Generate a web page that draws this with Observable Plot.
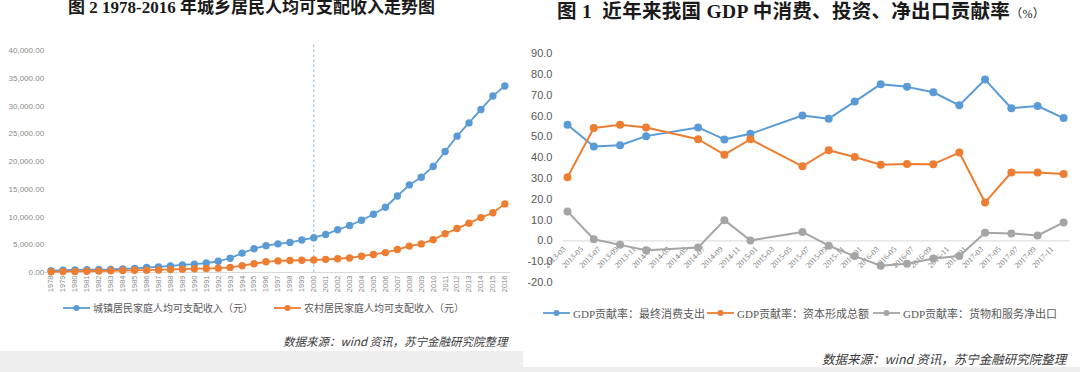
<!DOCTYPE html>
<html><head><meta charset="utf-8">
<script src="https://cdn.jsdelivr.net/npm/d3@7"></script>
<script src="https://cdn.jsdelivr.net/npm/@observablehq/plot@0.6"></script>
<style>
body{margin:0;width:1080px;height:372px;position:relative;overflow:hidden;background:#fff;font-family:"Noto Sans CJK SC",sans-serif}
.abs{position:absolute}
.title{font-family:"Liberation Serif","Noto Sans CJK SC",serif;font-weight:bold;color:#1a1a1a;white-space:nowrap;line-height:1.2}
.item{position:absolute;display:flex;align-items:center;white-space:nowrap;color:#595959}
.src{position:absolute;font-style:italic;color:#3a3a3a;white-space:nowrap;line-height:1.2}
</style></head><body>
<div class="abs" style="left:0;top:351px;width:523px;height:21px;background:#eeeeee"></div>
<div class="abs" style="left:523px;top:367px;width:557px;height:5px;background:#eeeeee"></div>
<div class="abs title" style="left:68px;top:-2px;font-size:17px;">图 2 1978-2016 年城乡居民人均可支配收入走势图</div>
<div class="abs title" style="left:557px;top:0px;font-size:19.5px;letter-spacing:0.3px">图 1&nbsp; 近年来我国 GDP 中消费、投资、净出口贡献率<span style="font-size:12px;font-weight:normal">（%）</span></div>
<div class="abs" id="c1" style="left:0;top:40px"></div>
<div class="abs" id="c2" style="left:520px;top:40px"></div>
<div id="lg"></div>
<div class="src" style="left:283px;top:335px;font-size:11.5px">数据来源：wind 资讯，苏宁金融研究院整理</div>
<div class="src" style="left:822px;top:351px;font-size:12.5px">数据来源：wind 资讯，苏宁金融研究院整理</div>
<script>
// ---- Left chart data: 1978-2016 urban / rural per-capita disposable income (yuan)
const years = [1978,1979,1980,1981,1982,1983,1984,1985,1986,1987,1988,1989,1990,1991,1992,1993,1994,1995,1996,1997,1998,1999,2000,2001,2002,2003,2004,2005,2006,2007,2008,2009,2010,2011,2012,2013,2014,2015,2016];
const urbanIncome = [343,405,478,500,535,565,652,739,901,1002,1180,1374,1510,1701,2027,2577,3496,4283,4839,5160,5425,5854,6280,6860,7703,8472,9422,10493,11760,13786,15781,17175,19109,21810,24565,26955,29381,31790,33616];
const ruralIncome = [134,160,191,223,270,310,355,398,424,463,545,602,686,709,784,922,1221,1578,1926,2090,2162,2210,2253,2366,2476,2622,2936,3255,3587,4140,4761,5153,5919,6977,7917,8896,9892,10772,12363];
const incomeSeries = ["城镇居民家庭人均可支配收入（元）","农村居民家庭人均可支配收入（元）"];
const incomeTicks = [0,5000,10000,15000,20000,25000,30000,35000,40000];
const markerYear = [2000];

// ---- Right chart data: GDP contribution rates (%)
const quarters = ["2013-03","2013-06","2013-09","2013-12","2014-06","2014-09","2014-12","2015-06","2015-09","2015-12","2016-03","2016-06","2016-09","2016-12","2017-03","2017-06","2017-09","2017-12"];
const consumption = [55.9,45.4,46.0,50.4,54.6,48.8,51.5,60.3,58.8,67.0,75.4,74.1,71.5,65.2,77.6,63.8,64.9,59.1];
const investment  = [30.6,54.3,55.9,54.6,48.9,41.5,48.9,35.9,43.6,40.4,36.6,37.0,36.9,42.5,18.5,32.9,32.9,32.2];
const netExports  = [14.2,0.8,-1.9,-4.5,-3.2,10.0,0.2,4.3,-2.3,-7.3,-11.9,-11.0,-8.5,-7.3,3.9,3.6,2.6,8.9];
const gdpSeries = ["GDP贡献率：最终消费支出","GDP贡献率：资本形成总额","GDP贡献率：货物和服务净出口"];
const gdpTicks = [-20,-10,0,10,20,30,40,50,60,70,80,90];
const monthTicks = ["2013-03","2013-05","2013-07","2013-09","2013-11","2014-01","2014-03","2014-05","2014-07","2014-09","2014-11","2015-01","2015-03","2015-05","2015-07","2015-09","2015-11","2016-01","2016-03","2016-05","2016-07","2016-09","2016-11","2017-01","2017-03","2017-05","2017-07","2017-09","2017-11"];

const colors = ["#5b9bd5","#ed7d31","#a5a5a5"];
const parseM = d3.utcParse("%Y-%m");

// ---- Left chart
const incomeRows = [urbanIncome, ruralIncome].map((vals, s) => years.map((y, i) => ({year: y, value: vals[i], s})));
const leftMarks = [
  Plot.ruleY([0], {stroke: "#d9d9d9", strokeWidth: 1}),
  Plot.ruleX(markerYear, {y1: 0, y2: 41300, stroke: "#8db4e2", strokeDasharray: "2.5,2.5", strokeWidth: 1}),
  Plot.axisY({ticks: incomeTicks, tickFormat: d3.format(",.2f"), tickSize: 0, tickPadding: 1, fontSize: 8, fill: "#8a8a8a", label: null}),
  Plot.axisX({ticks: years, tickFormat: d => String(d), tickRotate: -90, tickSize: 0, tickPadding: 3, fontSize: 7.5, fill: "#8a8a8a", label: null})
];
incomeRows.forEach((rows, s) => {
  leftMarks.push(Plot.line(rows, {x: "year", y: "value", stroke: colors[s], strokeWidth: 1.8}));
  leftMarks.push(Plot.dot(rows, {x: "year", y: "value", r: 3.7, fill: colors[s], stroke: "none"}));
});
const left = Plot.plot({
  width: 520, height: 262,
  marginLeft: 44.6, marginRight: 9.7, marginTop: 10, marginBottom: 30,
  x: {domain: [1977.5, 2016.5], label: null},
  y: {domain: [0, 40000], label: null},
  style: {fontFamily: "'Liberation Sans', sans-serif", background: "transparent", overflow: "visible"},
  marks: leftMarks
});
document.getElementById("c1").appendChild(left);

// ---- Right chart
const gdpRows = [consumption, investment, netExports].map((vals, s) => quarters.map((q, i) => ({date: parseM(q), value: vals[i], s})));
const rightMarks = [
  Plot.axisY({ticks: gdpTicks, tickFormat: d => d.toFixed(1), tickSize: 0, tickPadding: 11, fontSize: 11, fill: "#595959", label: null}),
  Plot.ruleY([0], {stroke: "#d9d9d9", strokeWidth: 1}),
  Plot.text(monthTicks, {x: d => parseM(d), y: () => 0, text: d => d, rotate: -45, textAnchor: "end", dx: -3, dy: 7, fontSize: 8, fill: "#7a7a7a", fontFamily: "'Liberation Serif', serif"})
];
gdpRows.forEach((rows, s) => {
  rightMarks.push(Plot.line(rows, {x: "date", y: "value", stroke: colors[s], strokeWidth: 2}));
  rightMarks.push(Plot.dot(rows, {x: "date", y: "value", r: 4, fill: colors[s], stroke: "none"}));
});
const right = Plot.plot({
  width: 560, height: 250,
  marginLeft: 43, marginRight: 10, marginTop: 13.3, marginBottom: 8,
  x: {type: "utc", domain: [new Date(Date.UTC(2013,1,15)), new Date(Date.UTC(2017,11,25))], axis: null},
  y: {domain: [-20, 90], label: null},
  style: {fontFamily: "'Liberation Sans', sans-serif", background: "transparent", overflow: "visible"},
  marks: rightMarks
});
document.getElementById("c2").appendChild(right);

// ---- Legends
function legendItem(label, color, x, y, fontSize, fontFamily) {
  const div = document.createElement("div");
  div.className = "item";
  div.style.left = x + "px";
  div.style.top = y + "px";
  div.style.fontSize = fontSize + "px";
  div.style.fontFamily = fontFamily;
  div.innerHTML = `<svg width="27" height="10" style="margin-right:3px"><line x1="0" y1="5" x2="27" y2="5" stroke="${color}" stroke-width="1.8"/><circle cx="13.5" cy="5" r="3" fill="${color}"/></svg><span>${label}</span>`;
  document.getElementById("lg").appendChild(div);
}
const lgLeftX = [63, 274];
incomeSeries.forEach((name, i) => legendItem(name, colors[i], lgLeftX[i], 300, 10, "'Noto Sans CJK SC', sans-serif"));
const lgRightX = [543, 707, 873];
gdpSeries.forEach((name, i) => legendItem(name, colors[i], lgRightX[i], 305, 11, "'Liberation Serif', 'Noto Sans CJK SC', serif"));
</script>
</body></html>
